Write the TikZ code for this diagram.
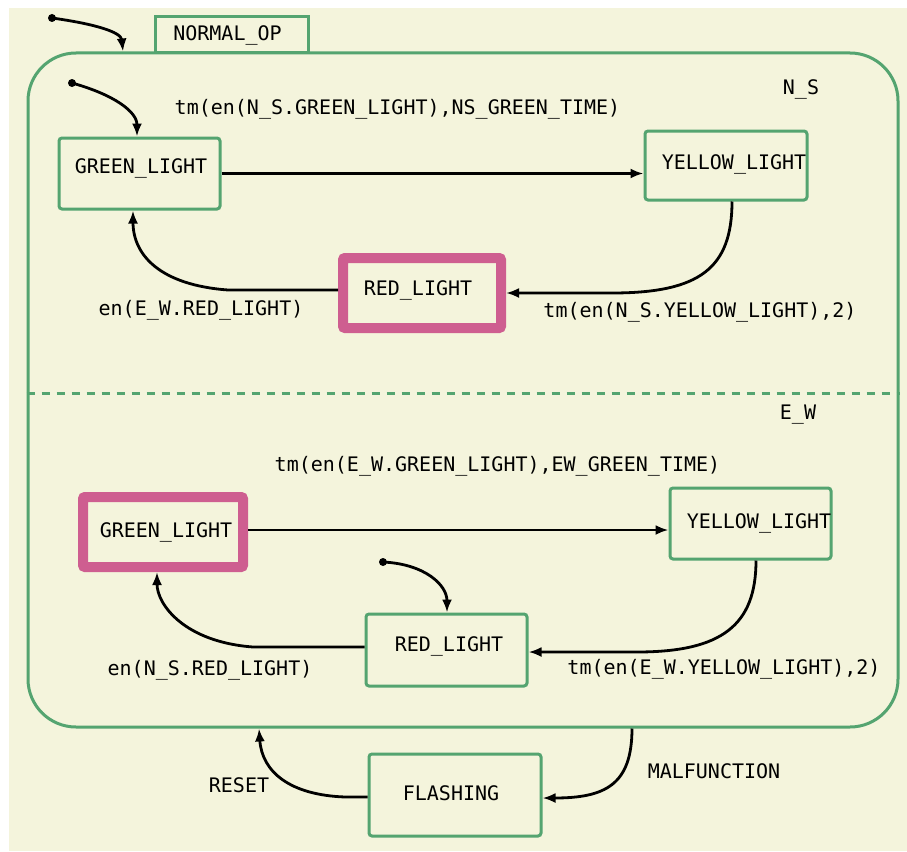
\documentclass[tikz,border=0pt]{standalone}
\usepackage{fontspec}
\setmonofont{DejaVu Sans Mono}
\usetikzlibrary{arrows.meta}
\definecolor{cream}{RGB}{244,244,220}
\definecolor{stgreen}{RGB}{84,164,112}
\definecolor{stpink}{RGB}{206,94,144}
\begin{document}
\begin{tikzpicture}[x=1pt,y=-1pt,
  state/.style={draw=stgreen, line width=3pt, rounded corners=3pt},
  activestate/.style={draw=stpink, line width=10pt, rounded corners=2pt},
  txt/.style={font=\ttfamily\fontsize{20}{24}\selectfont, inner sep=0pt, outer sep=0pt, text height=14pt, text depth=0pt},
  trans/.style={draw=black, line width=2.8pt, -{Latex[length=13pt,width=10pt]}},
  initdot/.style={circle, fill=black, minimum size=8pt, inner sep=0pt}
]
% background
\fill[white] (0,0) rectangle (907,851);
\fill[cream] (9,8) rectangle (907,851);
\useasboundingbox (0,0) rectangle (907,851);

% superstate and tab
\node[state, rounded corners=48pt, minimum width=870pt, minimum height=674pt] (normal) at (463,390) {};
\node[state, rounded corners=0pt, minimum width=153pt, minimum height=36pt] (tab) at (231.5,35) {};
\node[txt] (tabt) at (227.5,34) {NORMAL\_OP};

% region separator
\draw[stgreen, line width=3pt, dash pattern=on 8pt off 7pt] (normal.west |- 0,393) -- (normal.east |- 0,393);
\node[txt] (nslbl) at (801,87) {N\_S};
\node[txt] (ewlbl) at (798,412) {E\_W};

% N_S states
\node[state, minimum width=161pt, minimum height=71pt] (nsG) at (139.5,173.5) {};
\node[txt] (nsGt) at (141,166) {GREEN\_LIGHT};
\node[state, minimum width=162pt, minimum height=69pt] (nsY) at (726,165.5) {};
\node[txt] (nsYt) at (734,162) {YELLOW\_LIGHT};
\node[activestate, minimum width=158pt, minimum height=70pt] (nsR) at (422,293) {};
\node[txt] (nsRt) at (418,288) {RED\_LIGHT};

% E_W states
\node[activestate, minimum width=160pt, minimum height=70pt] (ewG) at (163,532) {};
\node[txt] (ewGt) at (166,530) {GREEN\_LIGHT};
\node[state, minimum width=161pt, minimum height=71pt] (ewY) at (750.5,523.5) {};
\node[txt] (ewYt) at (759,521) {YELLOW\_LIGHT};
\node[state, minimum width=161pt, minimum height=72pt] (ewR) at (446.5,650) {};
\node[txt] (ewRt) at (449,644) {RED\_LIGHT};

% FLASHING
\node[state, minimum width=172pt, minimum height=82pt] (flash) at (455,795) {};
\node[txt] (flasht) at (451,793) {FLASHING};

% initial transitions
\node[initdot] (i0) at (52,18) {};
\draw[trans] (i0.center) .. controls (95,24) and (121,32) .. (normal.north -| 123,0);
\node[initdot] (i1) at (72,83) {};
\draw[trans] (i1.center) .. controls (115,95) and (137,112) .. (nsG.north -| 137,0);
\node[initdot] (i2) at (383,562) {};
\draw[trans] (i2.center) .. controls (425,564) and (447,585) .. (ewR.north -| 447,0);

% N_S transitions
\draw[trans] (nsG.east) -- (nsY.west |- nsG.east);
\node[txt] (l1) at (397.5,107) {tm(en(N\_S.GREEN\_LIGHT),NS\_GREEN\_TIME)};
\draw[trans] (nsY.south -| 732,0) .. controls (732,268) and (700,293) .. (612,293) -- (nsR.east |- 0,293);
\node[txt] (l2) at (700,310) {tm(en(N\_S.YELLOW\_LIGHT),2)};
\draw[trans] (nsR.west |- 0,290) -- (228,290) .. controls (160,285) and (133,255) .. (nsG.south -| 133,0);
\node[txt] (l3) at (201,308) {en(E\_W.RED\_LIGHT)};

% E_W transitions
\draw[trans] (ewG.east |- 0,530) -- (ewY.west |- 0,530);
\node[txt] (l4) at (497.5,464) {tm(en(E\_W.GREEN\_LIGHT),EW\_GREEN\_TIME)};
\draw[trans] (ewY.south -| 756,0) .. controls (756,625) and (722,652) .. (637,652) -- (ewR.east |- 0,652);
\node[txt] (l5) at (724,667) {tm(en(E\_W.YELLOW\_LIGHT),2)};
\draw[trans] (ewR.west |- 0,647) -- (253,647) .. controls (185,642) and (157,605) .. (ewG.south -| 157,0);
\node[txt] (l6) at (210,668) {en(N\_S.RED\_LIGHT)};

% FLASHING transitions
\draw[trans] (normal.south -| 632,0) .. controls (632,785) and (605,798) .. (flash.east |- 0,798);
\node[txt] (l7) at (714,771) {MALFUNCTION};
\draw[trans] (flash.west |- 0,797) -- (345,797) .. controls (290,795) and (262,772) .. (normal.south -| 259,0);
\node[txt] (l8) at (239,785) {RESET};
\end{tikzpicture}
\end{document}
